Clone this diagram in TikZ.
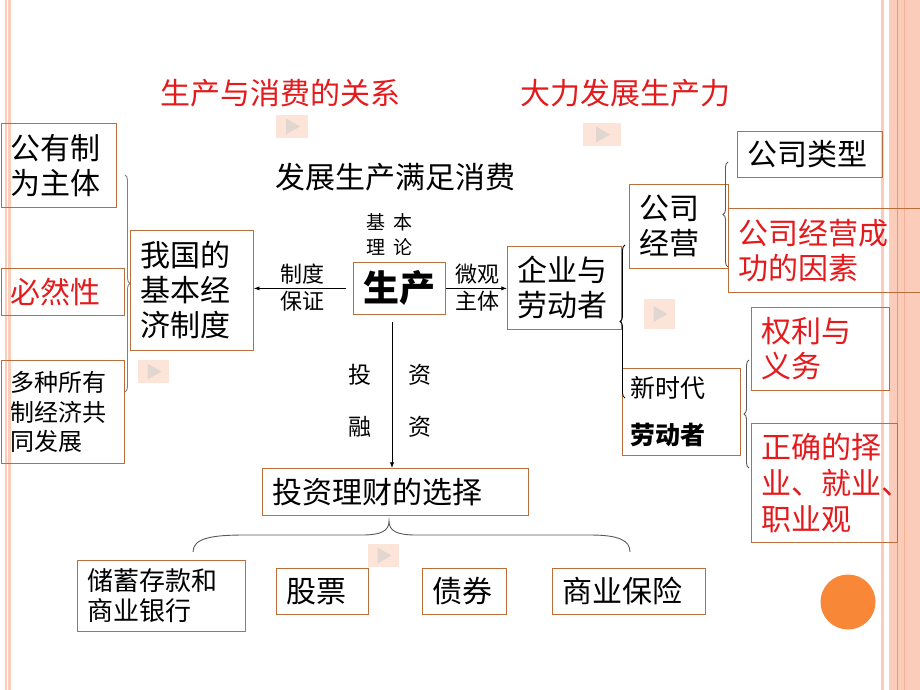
\documentclass[tikz,border=0pt]{standalone}
\usepackage{fontspec}
\setmainfont{Noto Sans CJK SC}
\usetikzlibrary{arrows.meta,positioning,decorations.pathreplacing}

\definecolor{boxline}{RGB}{185,110,60}
\definecolor{hired}{RGB}{228,26,28}
\definecolor{stripe}{RGB}{251,204,186}
\definecolor{stripeline}{RGB}{236,150,110}
\definecolor{playbg}{RGB}{252,229,216}
\definecolor{playfg}{RGB}{226,214,208}
\definecolor{dot}{RGB}{248,136,56}

\begin{document}
\begin{tikzpicture}[x=1pt, y=-1pt,
  box/.style={rectangle, draw=boxline, line width=0.8pt, align=left, inner xsep=10pt, inner ysep=0pt, anchor=north west},
  big/.style={font=\fontsize{30}{35}\selectfont},
  mid/.style={font=\fontsize{25}{30}\selectfont},
  small/.style={font=\fontsize{22}{27}\selectfont},
  arrow/.style={-{Latex[length=2mm]}, line width=0.8pt},
  brace/.style={decorate, decoration={brace, amplitude=5pt}, draw=gray!70!black, line width=0.9pt}]

\useasboundingbox (0,0) rectangle (920,690);

% side stripes
\fill[stripe] (5,0) rectangle (11,690);
\draw[white, line width=1pt] (7.5,0) -- (7.5,690);
\fill[stripe] (880.5,0) rectangle (883.5,690);
\fill[stripe] (889,0) rectangle (920,690);
\draw[stripeline, line width=0.8pt] (897,0) -- (897,690);
\draw[stripeline!50!stripe, line width=0.6pt] (904.5,0) -- (904.5,690);

% titles
\node[big, text=hired] (title_l) at (280,93) {生产与消费的关系};
\node[big, text=hired] (title_r) at (625,93) {大力发展生产力};
\node[big] (fazhan) at (395,177) {发展生产满足消费};

% left column
\node[box, big, text width=95pt, minimum height=84pt] (gongyou) at (0.5,123) {公有制\\为主体};
\node[box, big, text width=103pt, minimum height=47pt, text=hired] (biran) at (0.5,268) {必然性};
\node[box, font=\fontsize{24}{29.5}\selectfont, text width=103pt, minimum height=103pt] (duozhong) at (0.5,360) {多种所有\\制经济共\\同发展};
\node[box, big, text width=103pt, minimum height=120pt] (jiben) at (130,230) {我国的\\基本经\\济制度};

% centre
\node[box, font=\fontsize{36}{40}\selectfont\bfseries, align=center, text width=72pt, minimum height=52pt] (sheng) at (353,262) {生产};
\node[font=\fontsize{19}{25}\selectfont, align=center, above=3pt of sheng, xshift=-10pt] (lilun) {基\hspace{0.45em}本\\理\hspace{0.45em}论};
\node[small, align=center] (zhidu) at (302,288) {制度\\保证};
\node[small, align=center] (weiguan) at (477,288) {微观\\主体};
\node[font=\fontsize{23}{27}\selectfont] (tou) at (360,375) {投};
\node[font=\fontsize{23}{27}\selectfont] (zi_a) at (420,375) {资};
\node[font=\fontsize{23}{27}\selectfont] (rong) at (360,427) {融};
\node[font=\fontsize{23}{27}\selectfont] (zi_b) at (420,427) {资};

\node[box, big, text width=246pt, minimum height=47pt] (touzi) at (262,468) {投资理财的选择};
\node[box, font=\fontsize{26}{30}\selectfont, text width=148pt, minimum height=71pt] (chuxu) at (77,560) {储蓄存款和\\商业银行};
\node[box, big, text width=72pt, minimum height=46pt] (gupiao) at (276,568) {股票};
\node[box, big, text width=64pt, minimum height=46pt] (zhaiquan) at (422,568) {债券};
\node[box, big, text width=133pt, minimum height=46pt] (baoxian) at (552,568) {商业保险};

% right side
\node[box, big, text width=94pt, minimum height=83pt] (qiye) at (507,246) {企业与\\劳动者};
\node[box, big, text width=79pt, minimum height=84pt] (gongsi) at (629,184) {公司\\经营};
\node[box, big, text width=125pt, minimum height=46pt] (leixing) at (737,131) {公司类型};
\node[box, big, text width=174pt, minimum height=84pt, text=hired] (chenggong) at (728,208) {公司经营成\\功的因素};
\node[box, mid, text width=102pt, minimum height=87pt, inner xsep=8pt] (xinshidai) at (622,368) {新时代\\[17pt]\textbf{劳动者}};
\node[box, big, text width=118pt, minimum height=83pt, text=hired] (quanli) at (751,307) {权利与\\义务};
\node[box, font=\fontsize{30}{36}\selectfont, text width=126pt, minimum height=119pt, text=hired] (zeye) at (751,423) {正确的择\\业、就业、\\职业观};

% Arrows
\draw[arrow] ([xshift=-7pt]sheng.west) -- (sheng.west -| jiben.east);
\draw[arrow] (sheng.east) -- (sheng.east -| qiye.west);
\coordinate (drop) at (392,322);
\draw[arrow] (drop) -- (drop |- touzi.north);

% braces
\draw[brace, draw=gray] (125,175) -- (125,392);
\draw[brace, draw=black] (625,398) -- (625,245);
\draw[brace] (728,267) -- (728,162);
\draw[brace] (749,468) -- (749,360);
\draw[gray!70!black, line width=0.9pt] (193,552) .. controls (193,538) and (212,535) .. (245,535) -- (362,535) .. controls (381,535) and (389,531) .. (389,521) .. controls (389,531) and (397,535) .. (416,535) -- (590,535) .. controls (618,535) and (630,540) .. (630,552);

% play buttons
\foreach \px/\py/\pw/\ph in {276/115/32/23, 583/123/38/23, 644/299/31/30, 138/360/31/23, 368/544/31/23} {
  \fill[playbg] (\px,\py) rectangle ++(\pw,\ph);
  \fill[playfg] (\px+\pw/2-6,\py+\ph/2-8) -- ++(0,16) -- ++(14,-8) -- cycle;
}

\fill[dot] (848,602) circle [radius=27.5pt];

\end{tikzpicture}
\end{document}
